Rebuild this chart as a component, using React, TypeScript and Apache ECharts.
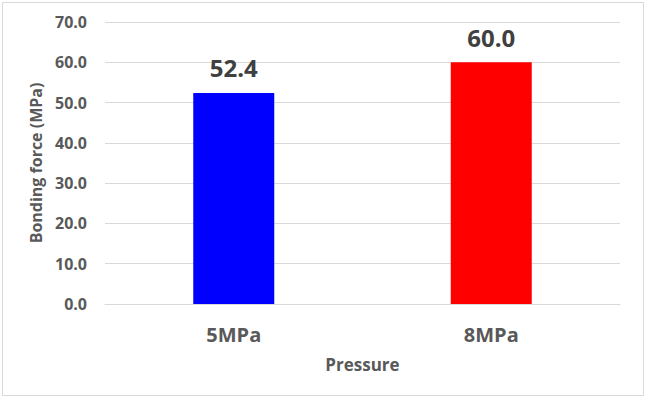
import React, { useEffect, useRef } from "react";
import * as echarts from "echarts";

const categories = ["5MPa", "8MPa"];
const values = [52.4, 60.0];
const colors = ["#0000FF", "#FF0000"];

export default function App() {
  const ref = useRef<HTMLDivElement>(null);
  useEffect(() => {
    const chart = echarts.init(ref.current!, undefined, { renderer: "svg" });
    const font = "'Open Sans', 'Noto Sans', sans-serif";
    chart.setOption({
      animation: false,
      backgroundColor: "#ffffff",
      graphic: [
        {
          type: "rect",
          shape: { x: 2.5, y: 2.5, width: 641, height: 393 },
          style: { fill: "none", stroke: "#d9d9d9", lineWidth: 1 },
          silent: true,
        },
      ],
      grid: { left: 105, right: 27, top: 22, bottom: 95 },
      xAxis: {
        type: "category",
        data: categories,
        name: "Pressure",
        nameLocation: "middle",
        nameGap: 52,
        nameTextStyle: { fontFamily: font, fontWeight: "bold", fontSize: 17, color: "#595959" },
        axisLine: { lineStyle: { color: "#d9d9d9" } },
        axisTick: { show: false },
        axisLabel: { fontFamily: font, fontWeight: "bold", fontSize: 20, color: "#595959", margin: 20 },
      },
      yAxis: {
        type: "value",
        min: 0,
        max: 70,
        interval: 10,
        name: "Bonding force (MPa)",
        nameLocation: "middle",
        nameGap: 54,
        nameTextStyle: { fontFamily: font, fontWeight: "bold", fontSize: 16, color: "#595959" },
        axisLine: { show: false },
        axisTick: { show: false },
        splitLine: { lineStyle: { color: "#d9d9d9" } },
        axisLabel: {
          fontFamily: font,
          fontWeight: "bold",
          fontSize: 16,
          color: "#595959",
          margin: 18,
          formatter: (v: number) => v.toFixed(1),
        },
      },
      series: [
        {
          type: "bar",
          barWidth: 81,
          data: values.map((v, i) => ({ value: v, itemStyle: { color: colors[i] } })),
          label: {
            show: true,
            position: "top",
            distance: 13,
            fontFamily: font,
            fontWeight: "bold",
            fontSize: 24,
            color: "#404040",
            formatter: (p: any) => Number(p.value).toFixed(1),
          },
        },
      ],
    });
    return () => chart.dispose();
  }, []);
  return (
    <div
      ref={ref}
      style={{ position: "fixed", left: 0, top: 0, width: 647, height: 399 }}
    />
  );
}
